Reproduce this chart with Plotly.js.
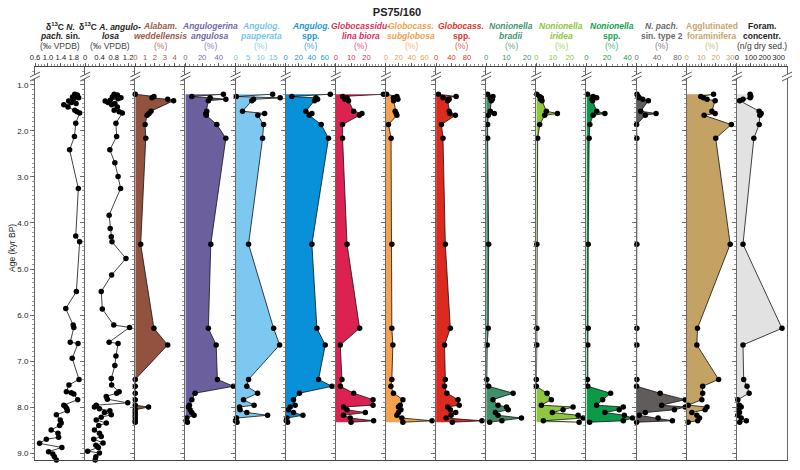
<!DOCTYPE html>
<html><head><meta charset="utf-8">
<script src="https://cdn.plot.ly/plotly-3.0.1.min.js"></script>
<style>html,body{margin:0;padding:0;background:#fff}#chart{width:800px;height:470px}</style>
</head><body><div id="chart"></div>
<script>
// ---------- data ----------
const AGE_NP = [1.20,1.22,1.24,1.26,1.28,1.30,1.33,1.35,1.38,1.40,1.43,1.48,1.55,1.58,1.61,1.83,2.12,2.41,3.25,4.28,4.41,5.49,5.86,6.22,6.27,6.59,6.62,6.94,7.40,7.52,7.67,7.69,7.72,7.84,7.96,7.99,8.03,8.08,8.17,8.28,8.35,8.40,8.50,8.57,8.66,8.70,8.79,8.88,8.97,9.02,9.08,9.15];
const D13C_NP = [1.83,1.91,1.86,1.76,1.95,1.80,1.75,1.64,1.72,1.87,1.49,1.62,1.83,1.90,1.98,1.86,1.82,1.67,1.94,1.86,1.98,1.88,1.55,1.78,1.80,1.69,1.93,1.75,1.96,1.65,1.57,1.72,1.80,1.92,1.49,1.54,1.58,1.60,1.26,1.38,1.41,1.36,1.10,1.31,1.33,0.95,0.74,1.43,1.02,1.15,1.20,1.26];

const AGE_AA = [1.20,1.22,1.24,1.26,1.28,1.30,1.33,1.35,1.38,1.40,1.43,1.48,1.55,1.58,1.61,1.83,2.12,2.41,2.69,2.99,3.25,3.83,4.12,4.30,4.41,4.77,5.13,5.49,5.87,6.22,6.27,6.59,6.62,6.89,7.10,7.38,7.52,7.67,7.70,7.77,7.83,7.91,7.96,8.00,8.04,8.08,8.12,8.17,8.22,8.28,8.35,8.40,8.50,8.57,8.64,8.70,8.78,8.83,8.88,8.96,9.00,9.08,9.15];
const D13C_AA = [0.81,0.90,0.86,0.76,1.00,0.92,0.70,0.56,0.64,0.83,0.74,0.90,0.81,0.95,1.04,0.86,0.88,0.69,0.83,0.92,0.99,0.67,0.70,0.73,0.75,1.14,0.74,0.45,0.48,0.80,1.24,0.67,0.92,0.86,0.83,0.73,0.74,0.95,0.88,0.59,0.62,1.19,0.31,0.26,0.40,0.69,0.54,0.73,0.45,0.31,0.59,0.38,0.26,0.40,0.45,0.24,0.50,0.30,0.37,0.07,0.40,0.30,0.28];

const AGE_F   = [1.20,1.25,1.28,1.31,1.34,1.57,1.62,1.66,1.86,2.16,4.46,6.29,6.65,7.40,7.55,7.70,7.84,7.96,8.00,8.06,8.12,8.18,8.24,8.30,8.33];
const ALAB    = [0,1.9,1.7,3.3,3.9,1.6,1.4,1.2,1.0,1.07,0.55,1.9,3.3,0,0,0,0,0,1.35,0,0,0,0,0,0];
const ANGU    = [45.5,7.7,29.6,48.4,27.5,25.6,24.4,25,37.6,48.4,30.4,27.5,36.8,38.3,57.5,11.6,7.7,4.8,3.6,5.6,7.7,10.4,1.7,0.8,2.4];
const PAUP    = [14.8,0.3,17.8,7.2,6.5,2.8,11.6,8.9,11.2,10.8,5.2,15.2,17.6,5.2,4.5,8.8,3.2,7.4,1.6,1.8,4.5,12.8,0.4,0,0.6];
const ANGSPP  = [68.5,9.5,46.5,49,44.3,31,40.3,36.2,54.6,65.8,40.3,48,60.8,50.5,71,21.2,12,14.6,6.9,4.3,12,26.5,2,1,3];
const BIORA   = [31,4.4,7.3,6,8.3,11.6,17,15.3,4.4,4.4,7.3,15.5,2.9,4,3,11.6,24.2,24.2,5,7.3,19.2,5,9.4,24.6,9.9];
const SUBG    = [1,17,11.7,18.6,12,14.4,16,17,3.9,8,9.2,9.2,10.8,9.2,7.7,11.7,26.4,22.2,19.5,23.3,19.5,17,24.8,71.7,26.4];
const GLOBSPP = [6,52,18,34,30,34,36,50,14,18,24,37,22,24,22,28,57,60,30,37,51,39,26,119,42];
const BRADII  = [0.7,3.3,2,3,2.5,2,4,1,0.7,0.7,1.2,1,0.5,0.3,1.2,13.2,3.3,5.8,10,10.8,4.5,5.8,17.3,7.7,1.7];
const IRIDEA  = [0.3,2,3,2.5,3.4,6,12.6,5,2,0.8,0.3,0.3,0.3,0,0,6.4,9,3,22,16,9.6,25,28,4.2,25.6];
const NONSPP  = [1,6.5,10,5.5,6,10,18,6.5,3.3,2.6,1.7,1.7,1.3,1,1.3,23.6,15.8,9.9,36,32,18,37,45,36,3];
const NPACH2  = [0.8,3,5,12,23,8,38,17,0,0.5,0.5,0.5,0.5,0.5,0,46,95,49,95,74,17,5,42,70,0];
const AGGL    = [18.5,9.7,11.5,14,19.6,17.4,19.6,12,30.8,20,30,7.4,7,22,11,11,10.4,1,14,12.7,3.5,7,8.8,7.6,1];
const CONC    = [95,100,95,44,20,160,175,165,160,122,44,324,44,49,73,88,7,19,31,12,19,7,31,68,20];

const Y_TICKS  = [1,2,3,4,5,6,7,8,9];
const Y_LABELS = ["1.0","2.0","3.0","4.0","5.0","6.0","7.0","8.0","9.0"];

const X_TICKS = [[0.6,1.0,1.4,1.8],[0,0.4,0.8,1.2],[0,1,2,3,4],[0,20,40],[0,5,10,15],[0,20,40,60],[0,10,20],[0,20,40,60],[0,40,80],[0,10,20],[0,10,20],[0,20,40],[0,40,80],[0,10,20,30],[0,100,200,300]];
const X_LABELS = [["0.6","1.0","1.4","1.8"],["0","0.4","0.8","1.2"],["0","1","2","3","4"],["0","20","40"],["0","5","10","15"],["0","20","40","60"],["0","10","20"],["0","20","40","60"],["0","40","80"],["0","10","20"],["0","10","20"],["0","20","40"],["0","40","80"],["0","10","20","30"],["0","100","200","300"]];

const HEAD1 = ["δ<sup>13</sup>C <i>N.</i>","δ<sup>13</sup>C <i>A. angulo-</i>","<i>Alabam.</i>","<i>Angulogerina</i>","<i>Angulog.</i>","<i>Angulog.</i>","<i>Globocassidu-</i>","<i>Globocass.</i>","<i>Globocass.</i>","<i>Nonionella</i>","<i>Nonionella</i>","<i>Nonionella</i>","<i>N. pach.</i>","Agglutinated","Foram."];
const HEAD2 = ["<i>pach.</i> sin.","<i>losa</i>","<i>weddellensis</i>","<i>angulosa</i>","<i>pauperata</i>","spp.","<i>lina biora</i>","<i>subglobosa</i>","spp.","<i>bradii</i>","<i>iridea</i>","spp.","sin. type 2","foraminifera","concentr."];
const HEAD3 = ["(‰ VPDB)","(‰ VPDB)","(%)","(%)","(%)","(%)","(%)","(%)","(%)","(%)","(%)","(%)","(%)","(%)","(n/g dry sed.)"];

// ---------- styling (not data) ----------
const SERIES = [
  {age:AGE_NP, val:D13C_NP, fill:null,      range:[0.6,2.15], minor:0.1},
  {age:AGE_AA, val:D13C_AA, fill:null,      range:[0,1.4],   minor:0.1},
  {age:AGE_F, val:ALAB,    fill:'#93513F', range:[0,5.1],   minor:0.5},
  {age:AGE_F, val:ANGU,    fill:'#6B5F9E', range:[0,60],    minor:5},
  {age:AGE_F, val:PAUP,    fill:'#7CC8F0', range:[0,20],    minor:1},
  {age:AGE_F, val:ANGSPP,  fill:'#0890D8', range:[0,77],    minor:5},
  {age:AGE_F, val:BIORA,   fill:'#DC2250', range:[0,32.6],  minor:2},
  {age:AGE_F, val:SUBG,    fill:'#F4A24E', range:[0,78],    minor:5},
  {age:AGE_F, val:GLOBSPP, fill:'#DD2A1F', range:[0,130],   minor:10},
  {age:AGE_F, val:BRADII,  fill:'#3F8F6A', range:[0,24.6],  minor:2},
  {age:AGE_F, val:IRIDEA,  fill:'#8DC63F', range:[0,30],    minor:2},
  {age:AGE_F, val:NONSPP,  fill:'#0A9A48', range:[0,49],    minor:5},
  {age:AGE_F, val:NPACH2,  fill:'#615C5A', range:[0,98],    minor:10},
  {age:AGE_F, val:AGGL,    fill:'#C4A264', range:[0,34.6],  minor:2},
  {age:AGE_F, val:CONC,    fill:'#E2E2E2', range:[0,360],   minor:20}
];
const HCOL = ['#222','#222','#9B5A48','#7467A8','#74C4EE','#1B95D8','#DB2F5A','#EE9F4E','#DD3328','#3F9670','#8CC63E','#15A04E','#6A6A6A','#C8A56E','#222'];
const SUBCOL = ['#444','#444','#B07868','#8C82B8','#8ACFF2','#4AAAE0','#E35A7C','#F2B478','#E5605A','#66AA8A','#A4D268','#48B674','#808080','#D2B88A','#333'];

const L=35, R=787, T=67, B=460, N=15;
const PW=(R-L)/N;
const px2x = p => (p-L)/(R-L);
const py2y = p => (B-p)/(B-T);
const FONT = 'Liberation Sans, Arial, sans-serif';

const traces=[];
const layout = {
  width:800, height:470,
  margin:{l:L, r:800-R, t:T, b:470-B, pad:0},
  paper_bgcolor:'#fff', plot_bgcolor:'rgba(0,0,0,0)',
  showlegend:false,
  font:{family:FONT, size:8, color:'#222'},
  title:{text:'<b>PS75/160</b>', font:{size:11, color:'#222', family:FONT}, x:397/800, xanchor:'center', xref:'container', y:1-12/470, yanchor:'middle', yref:'container'},
  annotations:[], shapes:[]
};

for (let i=0;i<N;i++){
  const s=SERIES[i];
  const k = i===0 ? '' : String(i+1);
  traces.push({
    type:'scatter', mode:'lines+markers',
    x:s.val, y:s.age,
    xaxis:'x'+k, yaxis:'y'+k,
    line:{color:'#111', width:0.8},
    marker:{color:'#000', size:5.5},
    fill: s.fill ? 'tozerox' : 'none',
    fillcolor: s.fill || undefined,
    cliponaxis:false,
    hoverinfo:'skip'
  });
  layout['xaxis'+k] = {
    domain:[i/N,(i+1)/N], anchor:'y'+k, side:'top',
    range:s.range, autorange:false, fixedrange:true,
    showgrid:false, zeroline:false,
    showline:true, linecolor:'#444', linewidth:1, mirror:true,
    ticks:'outside', ticklen:3, tickwidth:0.8, tickcolor:'#444',
    tickmode:'array', tickvals:X_TICKS[i], ticktext:X_LABELS[i], tickangle:0,
    tickfont:{size:7.6, color:HCOL[i], family:FONT},
    minor:{ticks:'outside', ticklen:1.8, tickwidth:0.6, tickcolor:'#444', dtick:s.minor, tick0:0}
  };
  layout['yaxis'+k] = {
    domain:[0,1], anchor:'x'+k,
    range:[9.152,0.609], autorange:false, fixedrange:true,
    showgrid:false, zeroline:false,
    showline:true, linecolor:'#666', linewidth:1, mirror: i===N-1,
    ticks:'outside', ticklen:4, tickwidth:0.8, tickcolor:'#555',
    tickmode:'array', tickvals:Y_TICKS, ticktext:Y_LABELS,
    showticklabels: i===0,
    tickfont:{size:8, color:'#222', family:FONT},
    minor:{ticks:'outside', ticklen:2, tickwidth:0.6, tickcolor:'#555', dtick:0.1, tick0:0}
  };
  const cx = px2x(L + PW*(i+0.5));
  const lines=[['<b>'+HEAD1[i]+'</b>',26,HCOL[i]],['<b>'+HEAD2[i]+'</b>',36,HCOL[i]],[HEAD3[i],46,SUBCOL[i]]];
  lines.forEach(([t,py,c])=>{
    layout.annotations.push({text:t, xref:'paper', yref:'paper', x:cx, y:py2y(py),
      xanchor:'center', yanchor:'middle', showarrow:false,
      font:{size:8.5, color:c, family:FONT}});
  });
}
// y-axis title
layout.annotations.push({text:'Age (kyr BP)', xref:'paper', yref:'paper', x:px2x(12), y:py2y(248),
  xanchor:'center', yanchor:'middle', textangle:-90, showarrow:false,
  font:{size:8.5, color:'#222', family:FONT}});

// axis break marks
for (let i=0;i<=N;i++){
  const p = L + PW*i;
  const a1=[p-5,77], b1=[p+5,72], a2=[p-5,81], b2=[p+5,76];
  const P = q => px2x(q[0]).toFixed(5)+','+py2y(q[1]).toFixed(5);
  layout.shapes.push({type:'path', xref:'paper', yref:'paper',
    path:'M'+P(a1)+' L'+P(b1)+' L'+P(b2)+' L'+P(a2)+' Z',
    fillcolor:'#fff', line:{width:0}, layer:'above'});
  [[a1,b1],[a2,b2]].forEach(([u,v])=>{
    layout.shapes.push({type:'line', xref:'paper', yref:'paper',
      x0:px2x(u[0]), y0:py2y(u[1]), x1:px2x(v[0]), y1:py2y(v[1]),
      line:{color:'#444', width:0.9}, layer:'above'});
  });
}

Plotly.newPlot('chart', traces, layout, {displayModeBar:false, staticPlot:true});
</script>
</body></html>
